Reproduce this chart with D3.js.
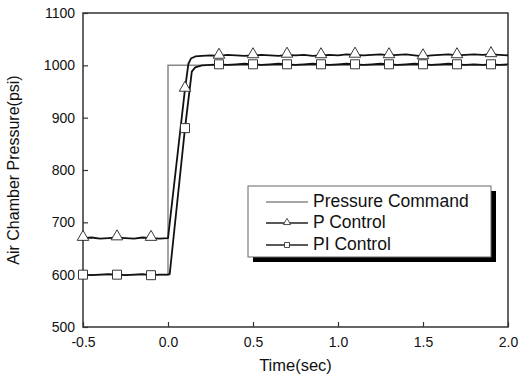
<!DOCTYPE html>
<html>
<head>
<meta charset="utf-8">
<script src="https://cdn.jsdelivr.net/npm/d3@7"></script>
<style>
  body { margin: 0; background: #fff; }
  svg { display: block; font-family: Arial, "Liberation Sans", sans-serif; }
</style>
</head>
<body>
<svg id="chart" width="520" height="382"></svg>
<script>
// pressure command (step at t = 0)
const cmdTime = [-0.5, 0.0, 0.0, 2.0];
const cmdValue = [600, 600, 1000, 1000];

// P control response
const pTime = [-0.5, -0.45, -0.4, -0.35, -0.3, -0.25, -0.2, -0.15, -0.1, -0.05, 0.0,
  0.05, 0.1, 0.12, 0.135, 0.16, 0.2,
  0.25, 0.3, 0.35, 0.4, 0.45, 0.5, 0.55, 0.6, 0.65, 0.7, 0.75, 0.8, 0.85, 0.9, 0.95, 1.0,
  1.05, 1.1, 1.15, 1.2, 1.25, 1.3, 1.35, 1.4, 1.45, 1.5, 1.55, 1.6, 1.65, 1.7, 1.75, 1.8,
  1.85, 1.9, 1.95, 2.0];
const pValue = [670, 671, 669, 670, 671, 670, 669, 671, 670, 669, 670,
  812, 955, 1003, 1013, 1017, 1018,
  1019, 1018, 1020, 1019, 1018, 1019, 1020, 1019, 1018, 1020, 1019, 1020, 1018, 1019, 1020, 1019,
  1021, 1020, 1019, 1020, 1021, 1019, 1020, 1021, 1019, 1017, 1019, 1020, 1021, 1019, 1020, 1021,
  1020, 1021, 1020, 1019];

// PI control response
const piTime = [-0.5, -0.45, -0.4, -0.35, -0.3, -0.25, -0.2, -0.15, -0.1, -0.05, 0.0, 0.01,
  0.05, 0.1, 0.14, 0.16, 0.2,
  0.25, 0.3, 0.35, 0.4, 0.45, 0.5, 0.55, 0.6, 0.65, 0.7, 0.75, 0.8, 0.85, 0.9, 0.95, 1.0,
  1.05, 1.1, 1.15, 1.2, 1.25, 1.3, 1.35, 1.4, 1.45, 1.5, 1.55, 1.6, 1.65, 1.7, 1.75, 1.8,
  1.85, 1.9, 1.95, 2.0];
const piValue = [600, 599, 600, 601, 600, 599, 600, 601, 599, 600, 600, 601,
  725, 880, 988, 996, 1000,
  1001, 1002, 1001, 1002, 1003, 1002, 1001, 1002, 1003, 1002, 1001, 1002, 1003, 1002, 1001, 1002,
  1003, 1002, 1001, 1002, 1003, 1002, 1001, 1002, 1003, 1002, 1001, 1002, 1003, 1002, 1001, 1002,
  1001, 1002, 1001, 1002];

// symbols every 0.2 s
const markerTime = [-0.5, -0.3, -0.1, 0.1, 0.3, 0.5, 0.7, 0.9, 1.1, 1.3, 1.5, 1.7, 1.9];

const xTicks = [-0.5, 0.0, 0.5, 1.0, 1.5, 2.0];
const yTicks = [500, 600, 700, 800, 900, 1000, 1100];
const legendLabels = ['Pressure Command', 'P Control', 'PI Control'];

const margin = {top: 13, right: 12, bottom: 55, left: 83};
const width = 520 - margin.left - margin.right;
const height = 382 - margin.top - margin.bottom;

const svg = d3.select('#chart');
const g = svg.append('g').attr('transform', `translate(${margin.left},${margin.top})`);

const x = d3.scaleLinear().domain([-0.5, 2.0]).range([0, width]);
const y = d3.scaleLinear().domain([500, 1100]).range([height, 0]);

const zip = (ts, vs) => ts.map((t, i) => ({t: t, v: vs[i]}));
const cmd = zip(cmdTime, cmdValue);
const pData = zip(pTime, pValue);
const piData = zip(piTime, piValue);
const isMarker = d => markerTime.some(m => Math.abs(m - d.t) < 1e-9);

const line = d3.line().x(d => x(d.t)).y(d => y(d.v));

// axes with inward ticks, plain hyphen for negatives
const xAxis = g.append('g')
  .attr('transform', `translate(0,${height})`)
  .call(d3.axisBottom(x).tickValues(xTicks).tickFormat(d => d.toFixed(1)).tickSize(-5).tickPadding(10));
const yAxis = g.append('g')
  .call(d3.axisLeft(y).tickValues(yTicks).tickFormat(d => String(d)).tickSize(-5).tickPadding(8));
[xAxis, yAxis].forEach(a => {
  a.select('.domain').remove();
  a.selectAll('line').attr('stroke', '#333').attr('stroke-width', 1.2);
  a.selectAll('text').attr('font-size', 14).attr('fill', '#111')
    .attr('font-family', 'Arial, "Liberation Sans", sans-serif');
});

g.append('rect')
  .attr('width', width).attr('height', height)
  .attr('fill', 'none').attr('stroke', '#333').attr('stroke-width', 1.5);

// command
g.append('path').datum(cmd)
  .attr('d', line).attr('fill', 'none')
  .attr('stroke', '#888').attr('stroke-width', 1.5);

// responses
[pData, piData].forEach(data => {
  g.append('path').datum(data)
    .attr('d', line).attr('fill', 'none')
    .attr('stroke', '#111').attr('stroke-width', 1.8).attr('stroke-linejoin', 'round');
});

const tri = d3.symbol().type(d3.symbolTriangle).size(58);
const sq = d3.symbol().type(d3.symbolSquare).size(81);

g.selectAll('.pm').data(pData.filter(isMarker)).join('path')
  .attr('class', 'pm')
  .attr('transform', d => `translate(${x(d.t)},${y(d.v) - 1})`)
  .attr('d', tri).attr('fill', '#fff').attr('stroke', '#222').attr('stroke-width', 0.9);

g.selectAll('.pim').data(piData.filter(isMarker)).join('path')
  .attr('class', 'pim')
  .attr('transform', d => `translate(${x(d.t)},${y(d.v)})`)
  .attr('d', sq).attr('fill', '#fff').attr('stroke', '#222').attr('stroke-width', 0.9);

// axis titles
svg.append('text')
  .attr('x', margin.left + width / 2).attr('y', 371)
  .attr('text-anchor', 'middle').attr('font-size', 16.5).attr('fill', '#111')
  .text('Time(sec)');
svg.append('text')
  .attr('transform', `translate(18.5,${margin.top + height / 2}) rotate(-90)`)
  .attr('text-anchor', 'middle').attr('font-size', 16).attr('fill', '#111')
  .text('Air Chamber Pressure(psi)');

// legend
const lg = svg.append('g').attr('transform', 'translate(248,186)');
lg.append('rect').attr('x', 5).attr('y', 5).attr('width', 243).attr('height', 71).attr('fill', '#000');
lg.append('rect').attr('width', 243).attr('height', 71)
  .attr('fill', '#fff').attr('stroke', '#666').attr('stroke-width', 1);

const rowY = [16, 37, 59];
legendLabels.forEach((label, i) => {
  lg.append('line')
    .attr('x1', 18).attr('x2', 60).attr('y1', rowY[i]).attr('y2', rowY[i])
    .attr('stroke', i === 0 ? '#888' : '#222').attr('stroke-width', 1.3);
  if (i === 1) {
    lg.append('path').attr('transform', `translate(39,${rowY[i] - 0.5})`)
      .attr('d', d3.symbol().type(d3.symbolTriangle).size(22))
      .attr('fill', '#fff').attr('stroke', '#222').attr('stroke-width', 0.8);
  }
  if (i === 2) {
    lg.append('path').attr('transform', `translate(39,${rowY[i]})`)
      .attr('d', d3.symbol().type(d3.symbolSquare).size(25))
      .attr('fill', '#fff').attr('stroke', '#222').attr('stroke-width', 0.8);
  }
  lg.append('text')
    .attr('x', 65).attr('y', rowY[i] + 5)
    .attr('font-size', 17.5).attr('fill', '#111')
    .text(label);
});
</script>
</body>
</html>
